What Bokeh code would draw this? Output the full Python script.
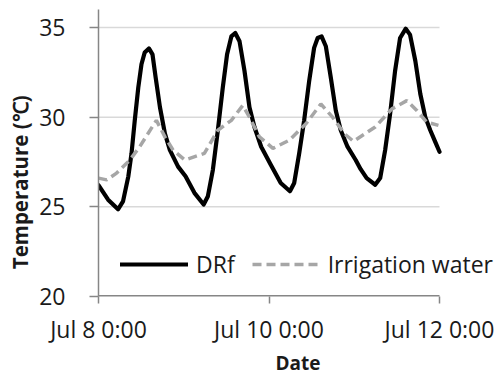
from bokeh.plotting import figure
from bokeh.models import Range1d, FixedTicker, Legend, LegendItem
from bokeh.embed import file_html
from bokeh.resources import INLINE

# hours since Jul 8 0:00
drf_hours = [0, 2.7, 5.5, 6.9, 8.4, 9.3, 10.2, 11.2, 12.1, 13.0, 14.2, 15.2, 16.1,
             17.3, 18.7, 20.1, 22.4, 24.5, 27.0, 29.6, 30.8, 32.2, 33.6, 35.0,
             36.2, 37.4, 38.5, 39.7, 41.1, 42.5, 43.9, 45.8, 48.5, 51.3, 53.9,
             55.1, 56.5, 57.9, 59.3, 60.7, 61.7, 62.8, 64.0, 65.4, 66.8, 68.2,
             70.1, 72.4, 73.8, 75.5, 77.9, 79.3, 80.7, 82.1, 83.5, 84.9, 86.5,
             87.7, 89.2, 90.6, 92.0, 93.4, 94.8, 96.0]
drf_temp = [26.2, 25.4, 24.86, 25.3, 26.7, 27.98, 29.8, 31.65, 32.95, 33.6, 33.83,
            33.5, 32.2, 30.55, 29.08, 28.16, 27.24, 26.7, 25.78, 25.13, 25.59,
            27.06, 29.27, 31.66, 33.5, 34.5, 34.69, 34.23, 32.58, 30.55, 29.45,
            28.35, 27.35, 26.33, 25.87, 26.33, 27.98, 29.82, 32.0, 33.86, 34.41,
            34.5, 33.95, 32.2, 30.37, 29.27, 28.35, 27.61, 27.1, 26.6, 26.23,
            26.6, 28.16, 30.19, 32.58, 34.41, 34.93, 34.6, 33.13, 31.29, 30.0,
            29.27, 28.62, 28.07]

irr_hours = [0, 2.3, 5.1, 8.8, 11.6, 16.3, 18.7, 21.0, 24.3, 29.8, 33.6, 37.4,
             40.6, 42.5, 45.3, 49.1, 53.7, 58.4, 62.6, 65.9, 69.2, 71.8, 77.9,
             82.6, 86.8, 89.6, 92.4, 95.7]
irr_temp = [26.6, 26.5, 26.88, 27.6, 28.35, 29.82, 28.9, 28.16, 27.61, 27.98,
            29.27, 29.82, 30.65, 30.0, 28.9, 28.26, 28.71, 29.63, 30.73, 30.0,
            29.08, 28.65, 29.45, 30.46, 30.92, 30.37, 29.72, 29.54]

x_ticks = [0, 48, 96]
x_labels = ["Jul 8 0:00", "Jul 10 0:00", "Jul 12 0:00"]
y_ticks = [20, 25, 30, 35]
grid_values = [25, 30, 35]

FONT = "Open Sans"
X_END = 96
# frame widened to the right so the legend is not clipped; the data axis ends at X_END
X_VIEW = X_END * 399 / 341

p = figure(width=499, height=378, output_backend="svg", toolbar_location=None,
           x_range=Range1d(0, X_VIEW), y_range=Range1d(20, 36),
           min_border_left=98, min_border_right=2, min_border_top=9,
           min_border_bottom=80)
p.outline_line_color = None
p.background_fill_color = "white"
p.xgrid.visible = False
p.ygrid.visible = False

# horizontal gridlines ending at the last date
p.segment(x0=[0] * len(grid_values), x1=[X_END] * len(grid_values),
          y0=grid_values, y1=grid_values, line_color="#d9d9d9", line_width=1.5)
# x axis line ending at the last date
p.segment(x0=[0], x1=[X_END], y0=[20], y1=[20], line_color="#868686", line_width=3)

r1 = p.line(drf_hours, drf_temp, line_color="black", line_width=4.2,
            line_join="round", line_cap="round")
r2 = p.line(irr_hours, irr_temp, line_color="#a6a6a6", line_width=3.5,
            line_dash="9 5")

for ax in (p.xaxis[0], p.yaxis[0]):
    ax.axis_line_color = "#868686"
    ax.axis_line_width = 1.5
    ax.major_tick_line_color = "#868686"
    ax.major_tick_line_width = 1.5
    ax.minor_tick_line_color = None
    ax.major_tick_in = 0
    ax.major_label_text_font = FONT
    ax.major_label_text_font_size = "23px"
    ax.major_label_text_color = "#1a1a1a"
    ax.axis_label_text_font = FONT
    ax.axis_label_text_font_style = "bold"
    ax.axis_label_text_color = "#1a1a1a"

p.xaxis.axis_line_color = None
p.xaxis.ticker = FixedTicker(ticks=x_ticks)
p.xaxis.major_label_overrides = dict(zip(x_ticks, x_labels))
p.xaxis.major_tick_out = 7
p.xaxis.major_label_standoff = 9
p.xaxis.axis_label = "Date"
p.xaxis.axis_label_text_font_size = "19px"
p.xaxis.axis_label_standoff = 2

p.yaxis.ticker = FixedTicker(ticks=y_ticks)
p.yaxis.major_tick_out = 9
p.yaxis.major_label_standoff = 24
# trailing no-break spaces shift the centred title down along the axis, as in the reference
p.yaxis.axis_label = "Temperature (\u2103)" + "\u00a0" * 11
p.yaxis.axis_label_text_font_size = "20.5px"
p.yaxis.axis_label_standoff = 2

legend = Legend(items=[LegendItem(label="DRf", renderers=[r1]),
                       LegendItem(label="Irrigation water", renderers=[r2])],
                orientation="horizontal", location=(22, 16),
                glyph_width=68, glyph_height=20, label_standoff=8, spacing=17,
                padding=0, margin=0, border_line_color=None,
                background_fill_alpha=0, label_text_font=FONT,
                label_text_font_size="23px", label_text_color="#1a1a1a")
p.add_layout(legend)

open("out.html", "w").write(file_html(p, INLINE))
